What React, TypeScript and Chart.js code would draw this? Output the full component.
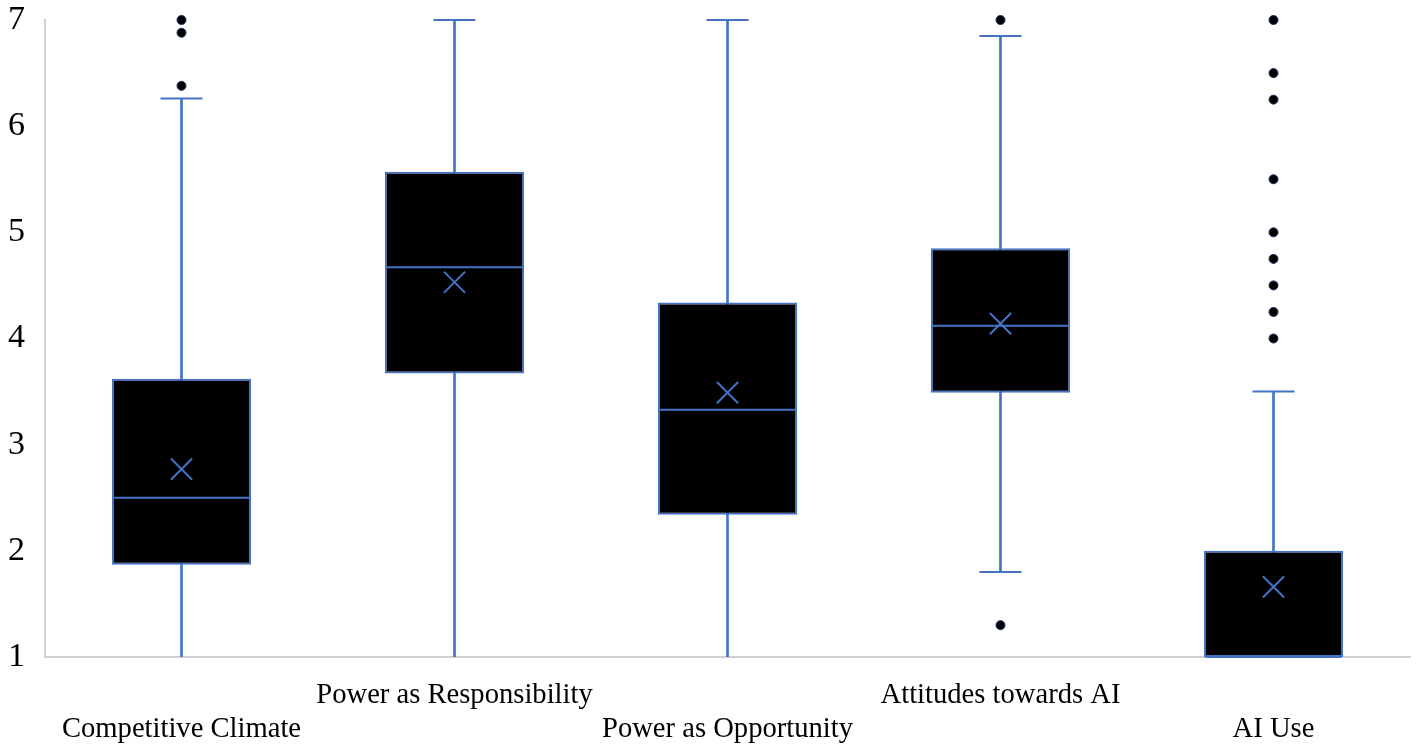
import React, { useEffect, useRef } from "react";
import { Chart, registerables } from "chart.js";

Chart.register(...registerables);

const CATEGORIES = [
  "Competitive Climate",
  "Power as Responsibility",
  "Power as Opportunity",
  "Attitudes towards AI",
  "AI Use",
];
const WHISKER_LOW = [1, 1, 1, 1.8, 1];
const Q1 = [1.87, 3.67, 2.34, 3.49, 1];
const MEDIAN = [2.5, 4.67, 3.33, 4.12, 1];
const Q3 = [3.62, 5.57, 4.34, 4.85, 2.0];
const WHISKER_HIGH = [6.26, 7, 7, 6.85, 3.5];
const MEAN = [2.77, 4.53, 3.49, 4.14, 1.66];
const OUTLIERS = [
  [7, 6.88, 6.38],
  [],
  [],
  [7, 1.3],
  [7, 6.5, 6.25, 5.5, 5, 4.75, 4.5, 4.25, 4],
];
const Y_TICKS = [1, 2, 3, 4, 5, 6, 7];

const Y_MIN = 1;
const Y_MAX = 7;
const BLUE = "#4472C4";
const SERIF = "'Liberation Serif', 'Times New Roman', serif";

export default function App() {
  const canvasRef = useRef<HTMLCanvasElement | null>(null);

  useEffect(() => {
    if (!canvasRef.current) return;

    const capPoints = CATEGORIES.flatMap((c, i) =>
      [WHISKER_LOW[i], WHISKER_HIGH[i]]
        .filter((v) => v > Y_MIN)
        .map((v) => ({ x: c, y: v }))
    );
    const outlierPoints = CATEGORIES.flatMap((c, i) =>
      OUTLIERS[i].map((v) => ({ x: c, y: v }))
    );

    const chart = new Chart(canvasRef.current, {
      type: "bar",
      data: {
        labels: CATEGORIES,
        datasets: [
          {
            type: "bar",
            label: "whiskers",
            data: CATEGORIES.map((_, i) => [WHISKER_LOW[i], WHISKER_HIGH[i]]),
            backgroundColor: BLUE,
            borderWidth: 0,
            barThickness: 2,
            grouped: false,
            order: 6,
          } as any,
          {
            type: "bar",
            label: "box",
            data: CATEGORIES.map((_, i) => [Q1[i], Q3[i]]),
            backgroundColor: "#000000",
            borderColor: BLUE,
            borderWidth: 2,
            borderSkipped: false,
            barPercentage: 0.51,
            categoryPercentage: 1,
            grouped: false,
            order: 5,
          } as any,
          {
            type: "line",
            label: "caps",
            data: capPoints,
            showLine: false,
            clip: false,
            pointStyle: "line",
            pointRadius: 21,
            pointBorderWidth: 2,
            pointBorderColor: BLUE,
            borderColor: BLUE,
            order: 4,
          } as any,
          {
            type: "line",
            label: "median",
            data: CATEGORIES.map((c, i) => ({ x: c, y: MEDIAN[i] })),
            showLine: false,
            clip: false,
            pointStyle: "line",
            pointRadius: 68,
            pointBorderWidth: 2,
            pointBorderColor: BLUE,
            borderColor: BLUE,
            order: 3,
          } as any,
          {
            type: "line",
            label: "mean",
            data: CATEGORIES.map((c, i) => ({ x: c, y: MEAN[i] })),
            showLine: false,
            clip: false,
            pointStyle: "crossRot",
            pointRadius: 15,
            pointBorderWidth: 2,
            pointBorderColor: BLUE,
            borderColor: BLUE,
            order: 2,
          } as any,
          {
            type: "line",
            label: "outliers",
            data: outlierPoints,
            showLine: false,
            clip: false,
            pointStyle: "circle",
            pointRadius: 4.5,
            pointBackgroundColor: "#000000",
            pointBorderColor: "#1c2e6a",
            pointBorderWidth: 1,
            order: 1,
          } as any,
        ],
      },
      options: {
        animation: false,
        responsive: true,
        maintainAspectRatio: false,
        layout: {
          autoPadding: false,
          padding: { top: 20, right: 8, bottom: 0, left: 0 },
        },
        plugins: {
          legend: { display: false },
          tooltip: { enabled: false },
        },
        scales: {
          x: {
            type: "category",
            offset: true,
            grid: { display: false, drawTicks: false },
            border: { display: true, color: "#d0d0d0", width: 2 },
            ticks: {
              autoSkip: false,
              maxRotation: 0,
              minRotation: 0,
              padding: 22,
              color: "#000000",
              font: { family: SERIF, size: 28.6, lineHeight: 1.18 },
              callback: (_v: any, i: number) =>
                i % 2 === 0 ? ["", CATEGORIES[i]] : [CATEGORIES[i]],
            },
            afterFit: (scale: any) => {
              scale.height = 92;
              scale.paddingLeft = 0;
              scale.paddingRight = 0;
            },
          },
          y: {
            type: "linear",
            min: Y_MIN,
            max: Y_MAX,
            grid: { display: false, drawTicks: false },
            border: { display: true, color: "#d0d0d0", width: 2 },
            afterBuildTicks: (scale: any) => {
              scale.ticks = Y_TICKS.map((v) => ({ value: v }));
            },
            ticks: {
              padding: 20,
              color: "#000000",
              font: { family: SERIF, size: 34 },
            },
            afterFit: (scale: any) => {
              scale.width = 45;
              scale.paddingTop = 0;
              scale.paddingBottom = 0;
            },
          },
        },
      } as any,
    });

    return () => chart.destroy();
  }, []);

  return (
    <div
      style={{
        position: "fixed",
        left: 0,
        top: 0,
        width: 1418,
        height: 749,
        background: "#ffffff",
      }}
    >
      <canvas ref={canvasRef} />
    </div>
  );
}
